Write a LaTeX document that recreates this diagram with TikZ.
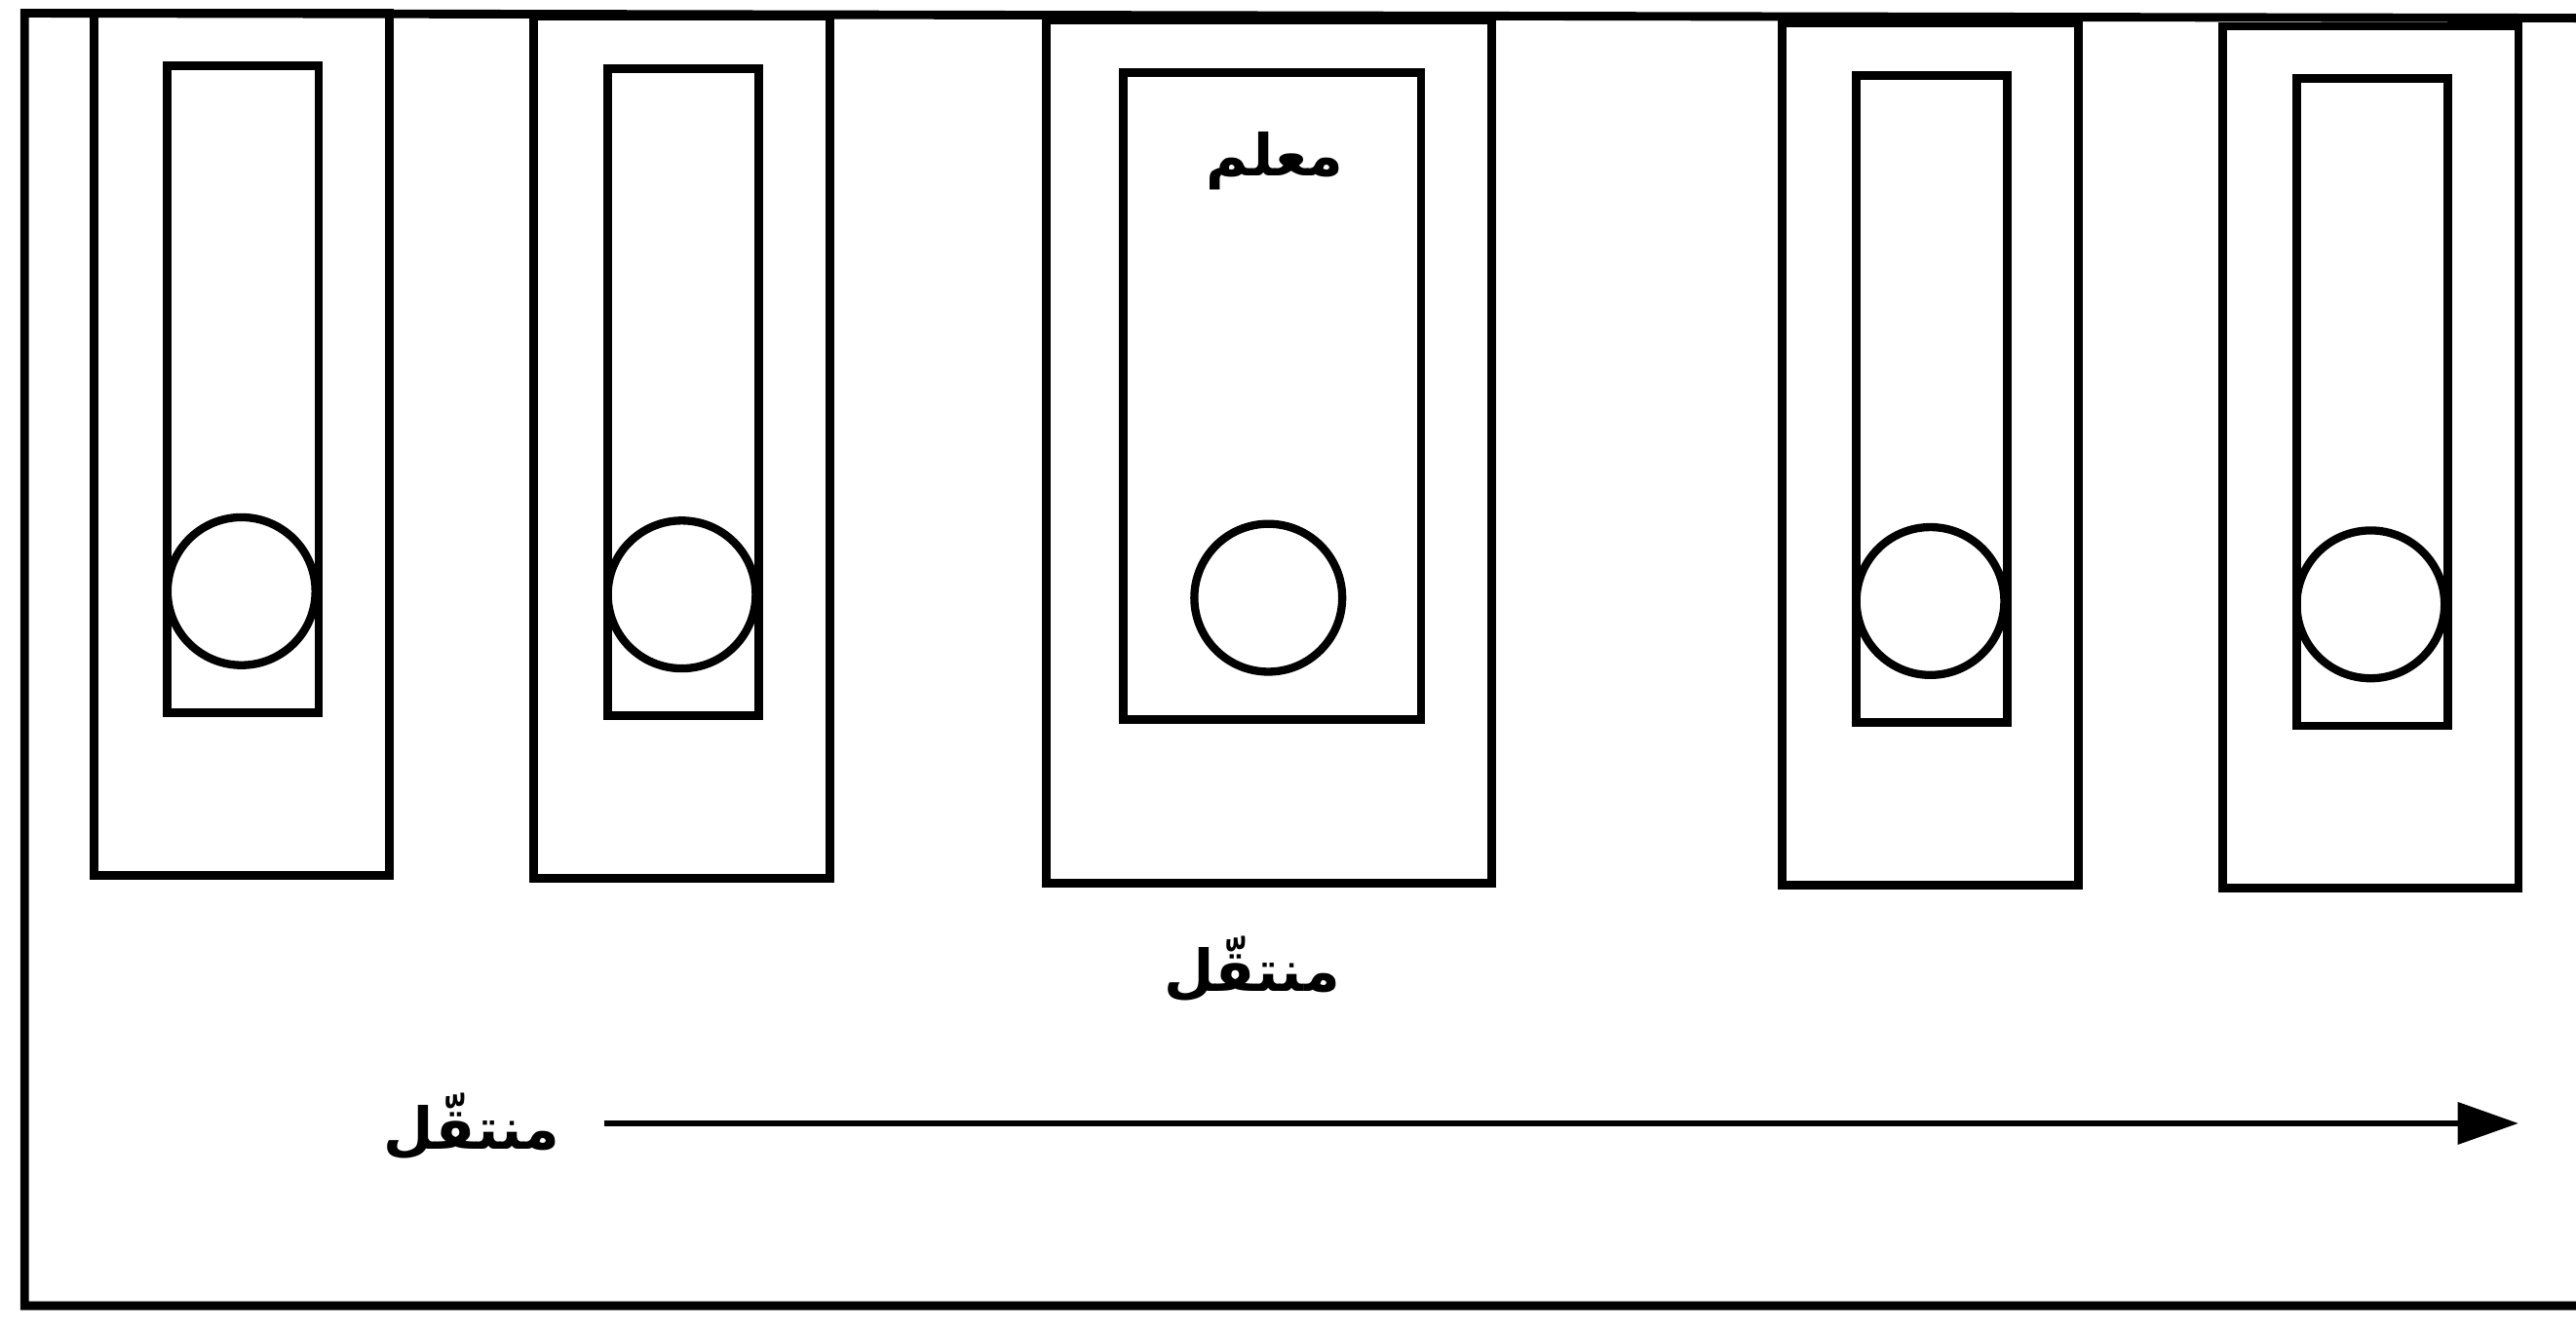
\documentclass[tikz,border=0pt]{standalone}
\usepackage{fontspec}
\usepackage{tikz}
\usetikzlibrary{positioning,arrows.meta}
\TeXXeTstate=1
\newfontfamily\arabicfont[Script=Arabic]{DejaVu Sans}

\begin{document}
\begin{tikzpicture}[x=0.01cm, y=-0.01cm,
    wallLine/.style={draw=black, line width=1.5pt, line join=miter},
    ballMark/.style={circle, draw=black, line width=1.4pt, minimum size=0.9cm, inner sep=0pt},
    arLabel/.style={font=\arabicfont\bfseries\fontsize{10}{12}\selectfont, inner sep=1pt}
]
    \useasboundingbox (0,0) rectangle (1568,808);

    % Outer frame (open on the right)
    \draw[wallLine] (1568,11) -- (15,8) -- (15,795) -- (1568,795);

    % Side slots: outer box, inner box, ball
    \foreach \i/\xo/\yo in {1/57/8, 2/325/10, 4/1085/14, 5/1353/16} {
        \draw[wallLine] (\xo,\yo) rectangle ++(180,525);
        \draw[wallLine] (\xo+45,\yo+32) rectangle ++(92,394);
        \node[ballMark] (ball\i) at (\xo+90,\yo+352) {};
    }

    % Middle slot (teacher)
    \draw[wallLine] (637,12) rectangle (908,538);
    \draw[wallLine] (684,44) rectangle (865,438);
    \node[ballMark] (ball3) at (772,364) {};
    \node[arLabel] (tagTeacher) at (776,98) {\beginR معلم\endR};

    % Labels and movement arrow
    \node[arLabel] (tagMid) at (762,590) {\beginR منتقّل\endR};
    \node[arLabel] (tagArrow) at (287,686) {\beginR منتقّل\endR};
    \coordinate (arrowStart) at (368,684);
    \coordinate (arrowEnd) at (1533,684);
    \draw[-{Triangle[length=0.37cm,width=0.25cm]}, line width=1.1pt] (arrowStart) -- (arrowEnd);
\end{tikzpicture}
\end{document}
